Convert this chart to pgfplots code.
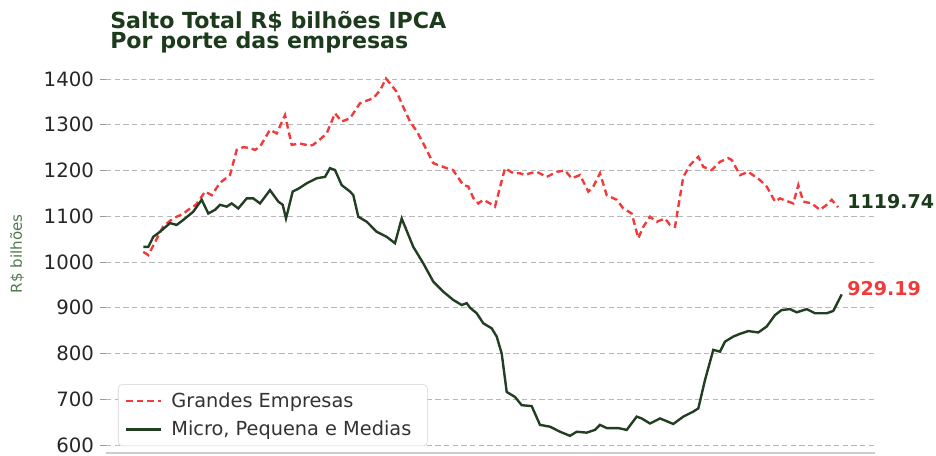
\documentclass[border=0pt]{standalone}
\usepackage{pgfplots}
\pgfplotsset{compat=1.18}
\usepackage{fontspec}
\setmainfont{DejaVu Sans}
\definecolor{gred}{HTML}{F23A3A}
\definecolor{mgreen}{HTML}{223F22}
\definecolor{titlegreen}{HTML}{1C3A1C}
\definecolor{ylabgreen}{HTML}{4E7A4E}
\definecolor{gridgray}{HTML}{B8B8B8}
\begin{document}
\begin{tikzpicture}[x=0.75pt,y=0.75pt]
\useasboundingbox (-79.5pt,-1.5pt) rectangle (622.5pt,339.75pt);
\begin{axis}[
  at={(0,0)}, anchor=south west,
  scale only axis,
  width=576.75pt, height=288.75pt,
  xmin=106, xmax=875, ymin=582.5, ymax=1424,
  axis x line*=bottom, axis y line*=left,
  x axis line style={draw=gridgray!70, line width=0.8pt},
  y axis line style={draw=none},
  xtick=\empty,
  ytick={600,700,...,1400},
  tick align=outside, major tick length=4.5pt,
  ytick style={draw=gray!80, line width=0.6pt},
  yticklabel style={font=\fontsize{14.8}{16}\selectfont, text=black!85, xshift=-1pt},
  /pgf/number format/assume math mode=true,
  /pgf/number format/1000 sep={},
  ymajorgrids,
  grid style={draw=gridgray, dash pattern=on 4pt off 2.5pt, line width=0.6pt},
  ylabel={R\$ bilhões},
  ylabel style={at={(axis description cs:-0.1157,0.517)}, anchor=center, rotate=0, font=\fontsize{11.3}{12}\selectfont, text=ylabgreen},
  legend style={at={(axis description cs:0.0156,0.018)}, anchor=south west,
    draw=gray!35, rounded corners=3pt, fill=white, font=\fontsize{14.5}{16}\selectfont, text=black!80,
    row sep=5pt, inner xsep=5pt, inner ysep=4pt,
    nodes={inner xsep=7pt}},
  legend cell align=left,
  legend image code/.code={\draw[#1] (0pt,0pt) -- (26pt,0pt);},
  clip=false,
]
\addplot[gred, line width=1.8pt, dash pattern=on 5pt off 3pt] coordinates {
(143.3,1022) (148.3,1015) (163,1077) (170,1090) (176.7,1099) (183,1105) (190,1117) (196,1125)
(201.7,1143) (205,1154) (211.7,1146) (220,1173) (230,1190) (236.7,1245) (243.3,1251) (250,1249)
(255,1245) (260,1252) (270,1289) (276.7,1281) (285,1321) (291.7,1256) (300,1259) (310,1254)
(313,1256) (320,1268) (326.7,1281) (335,1325) (341.7,1307) (350,1314) (360,1347) (373.3,1358)
(380,1375) (386,1401) (396.7,1372) (403,1340) (410,1307) (417,1285) (423.3,1259) (433.3,1216)
(446.7,1205) (453,1201) (458,1185) (463.3,1168) (468.3,1165) (473.3,1140) (478.3,1128) (483.3,1136)
(490,1128) (495,1121) (505,1205) (513.3,1194) (520,1194) (525,1190) (530,1194) (536.7,1197)
(546.7,1186) (556.7,1197) (565,1200) (571.7,1183) (580,1190) (588.3,1154) (593.3,1165) (600,1194)
(606.7,1146) (616.7,1136) (623.3,1117) (631.7,1106) (638.3,1052) (643.3,1077) (650,1099) (656.7,1088)
(665,1095) (670,1081) (675,1077) (678.3,1121) (683.3,1186) (690,1212) (698.3,1230) (703.3,1208)
(711.7,1201) (720,1219) (728.3,1227) (731.7,1223) (740,1190) (748.3,1197) (760,1179) (766.7,1165)
(775,1132) (780,1139) (788.3,1132) (793.3,1128) (798.3,1168) (803.3,1132) (811.7,1128) (820,1114)
(826.7,1125) (831.7,1136) (838,1119.74)
};
\addlegendentry{Grandes Empresas}
\addplot[mgreen, line width=1.8pt] coordinates {
(143.3,1033) (148.3,1033) (153.3,1055) (160,1066) (170,1085) (176.7,1081) (183.3,1092) (193.3,1110)
(201.7,1136) (208.3,1106) (215,1114) (220,1125) (226.7,1121) (231.7,1128) (238.3,1117) (246.7,1139)
(253.3,1139) (260,1128) (270,1157) (278.3,1132) (282.7,1125) (286,1095) (292.7,1154) (298.3,1160)
(306.7,1172) (316.7,1183) (325,1186) (330,1205) (335,1201) (341.7,1168) (350,1154) (353.3,1146)
(358.3,1099) (366.7,1088) (376.7,1066) (386.7,1055) (395,1041) (401.7,1095) (413.3,1033) (423.3,997)
(433.3,957) (443.3,935) (453.3,917) (461.7,906) (466.7,910) (470,900) (476.7,888) (483.3,866)
(491.7,855) (496.7,837) (501.7,800) (506.7,716) (515,705) (521.7,687) (531.7,685) (540,644)
(550,640) (560,629) (570,620) (576.7,629) (586.7,627) (595,633) (600,644) (606.7,637)
(618.3,637) (626.7,633) (636.7,662) (641.7,658) (650,647) (660,658) (666.7,652) (673.3,646)
(683.3,662) (693.3,673) (698.3,680) (705,742) (713.3,808) (720,804) (725,826) (733.3,837)
(740,843) (748.3,849) (758.3,846) (766.7,859) (775,884) (781.7,895) (790,897) (796.7,890)
(806.7,897) (815,888) (826.7,888) (833.3,893) (841.7,929.19)
};
\addlegendentry{Micro, Pequena e Medias}
\node[anchor=west, inner sep=0pt, text=titlegreen, font=\bfseries\fontsize{14.3}{16}\selectfont] at (axis cs:847,1133) {1119.74};
\node[anchor=west, inner sep=0pt, text=gred, font=\bfseries\fontsize{14.3}{16}\selectfont] at (axis cs:847,943) {929.19};
\end{axis}
\node[anchor=base west, inner sep=0pt, text=titlegreen, font=\bfseries\fontsize{16.6}{18}\selectfont] at (3pt,318.75pt) {Salto Total R\$ bilhões IPCA};
\node[anchor=base west, inner sep=0pt, text=titlegreen, font=\bfseries\fontsize{16.6}{18}\selectfont] at (3pt,303.75pt) {Por porte das empresas};
\end{tikzpicture}
\end{document}
